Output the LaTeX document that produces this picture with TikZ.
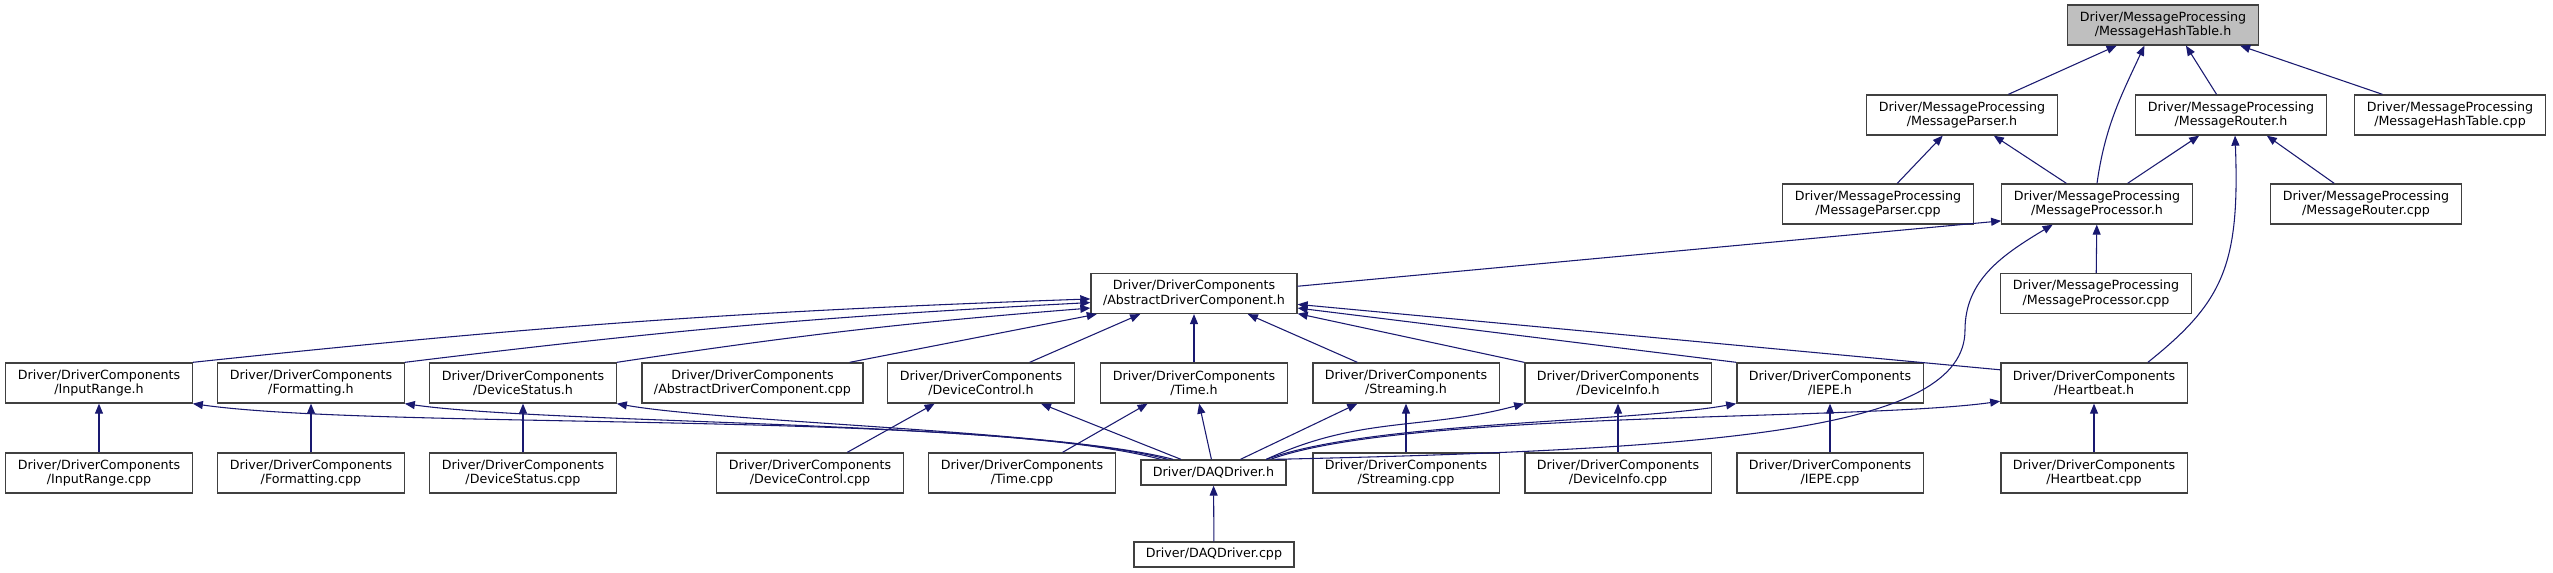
\documentclass[tikz,border=0pt]{standalone}
\usepackage{fontspec}
\setmainfont{DejaVu Sans}
\usetikzlibrary{arrows.meta}

\definecolor{midnightblue}{HTML}{191970}
\definecolor{nodeborder}{HTML}{404040}
\definecolor{rootfill}{HTML}{BFBFBF}

\begin{document}
\begin{tikzpicture}[
    file/.style={draw=nodeborder, fill=#1, line width=1pt, minimum height=30pt,
        inner xsep=9pt, inner ysep=0pt, align=center, font=\fontsize{9.5}{10.7}\selectfont},
    file/.default=white,
    oneline/.style={minimum height=18.75pt},
    dep/.style={draw=midnightblue, line width=0.8pt, -{Triangle[length=7.5pt, width=6pt]}},
    x=0.75pt, y=0.75pt
]

\def\W{2553}   % picture width (px)
\def\H{573}    % picture height (px)

\fill[white] (0,0) rectangle (\W,\H);
\useasboundingbox (0,0) rectangle (\W,\H);

% ── Message processing headers ───────────────────────────────────────────────
\node[file=rootfill] (hHashTable) at (2163,548) {Driver/MessageProcessing\\/MessageHashTable.h};
\node[file] (hParser)      at (1962,458) {Driver/MessageProcessing\\/MessageParser.h};
\node[file] (hRouter)      at (2231,458) {Driver/MessageProcessing\\/MessageRouter.h};
\node[file] (cppHashTable) at (2450,458) {Driver/MessageProcessing\\/MessageHashTable.cpp};
\node[file] (cppParser)    at (1878,369) {Driver/MessageProcessing\\/MessageParser.cpp};
\node[file] (hProcessor)   at (2097,369) {Driver/MessageProcessing\\/MessageProcessor.h};
\node[file] (cppRouter)    at (2366,369) {Driver/MessageProcessing\\/MessageRouter.cpp};
\node[file] (cppProcessor) at (2096,279.5) {Driver/MessageProcessing\\/MessageProcessor.cpp};

% ── Driver components ────────────────────────────────────────────────────────
\node[file] (hAbstract)   at (1194,279.5) {Driver/DriverComponents\\/AbstractDriverComponent.h};
\node[file] (cppAbstract) at (752.5,190) {Driver/DriverComponents\\/AbstractDriverComponent.cpp};

\foreach \n/\x in {InputRange/99, Formatting/311, DeviceStatus/523, Streaming/1406,
                   DeviceInfo/1618, IEPE/1830, Heartbeat/2094} {
    \node[file] (h\n)   at (\x,190) {Driver/DriverComponents\\/\n.h};
    \node[file] (cpp\n) at (\x,100) {Driver/DriverComponents\\/\n.cpp};
    \draw[dep] (cpp\n) -- (h\n);
}

\node[file] (hDeviceControl)   at (981,190)  {Driver/DriverComponents\\/DeviceControl.h};
\node[file] (cppDeviceControl) at (810,100)  {Driver/DriverComponents\\/DeviceControl.cpp};
\node[file] (hTime)            at (1194,190) {Driver/DriverComponents\\/Time.h};
\node[file] (cppTime)          at (1022,100) {Driver/DriverComponents\\/Time.cpp};

% ── Driver ───────────────────────────────────────────────────────────────────
\node[file, oneline] (daqH)   at (1213.5,100.5) {Driver/DAQDriver.h};
\node[file, oneline] (daqCpp) at (1214,18.5)    {Driver/DAQDriver.cpp};

\coordinate (bendDaq) at (1965,243);

% ── Includes of the message processing part ──────────────────────────────────
\draw[dep] (hParser.24) -- (hHashTable.204);
\draw[dep] (hProcessor.north) to[out=82, in=245] (hHashTable.228);
\draw[dep] (hRouter.125) -- (hHashTable.318);
\draw[dep] (cppHashTable.163) -- (hHashTable.345);
\draw[dep] (cppParser.47) -- (hParser.227);
\draw[dep] (hProcessor.146) -- (hParser.327);
\draw[dep] (hProcessor.34) -- (hRouter.213);
\draw[dep] (cppRouter.147) -- (hRouter.330);
\draw[dep] (hHeartbeat.21) .. controls +(75,60) and +(5,-130) .. (hRouter.281);
\draw[dep] (hAbstract.4) -- (hProcessor.190);
\draw[dep] (daqH.12) .. controls +(450,10) and +(0,-100) .. (bendDaq)
                     .. controls +(0,50) and +(-50,-30) .. (hProcessor.205);
\draw[dep] (cppProcessor) -- (hProcessor);

% ── Includes of AbstractDriverComponent.h ────────────────────────────────────
\draw[dep] (hInputRange.north east) to[bend left=2] (hAbstract.183);
\draw[dep] (hFormatting.north east) to[bend left=2] (hAbstract.185);
\draw[dep] (hDeviceStatus.north east) to[bend left=2] (hAbstract.188);
\draw[dep] (cppAbstract.12) -- (hAbstract.192);
\draw[dep] (hDeviceControl.23) -- (hAbstract.201);
\draw[dep] (hTime) -- (hAbstract);
\draw[dep] (hStreaming.157) -- (hAbstract.339);
\draw[dep] (hDeviceInfo.north west) -- (hAbstract.349);
\draw[dep] (hIEPE.north west) -- (hAbstract.352);
\draw[dep] (hHeartbeat.172) -- (hAbstract.354);

\draw[dep] (cppDeviceControl.29) -- (hDeviceControl.204);
\draw[dep] (cppTime.27) -- (hTime.204);

% ── Includes of DAQDriver.h ──────────────────────────────────────────────────
\draw[dep] (daqH.166) to[out=165, in=-8, looseness=0.5] (hInputRange.south east);
\draw[dep] (daqH.164) to[out=165, in=-8, looseness=0.5] (hFormatting.south east);
\draw[dep] (daqH.162) to[out=165, in=-10, looseness=0.5] (hDeviceStatus.south east);
\draw[dep] (daqH.158) -- (hDeviceControl.341);
\draw[dep] (daqH.99) -- (hTime.284);
\draw[dep] (daqH.26) -- (hStreaming.203);
\draw[dep] (daqH.14) to[out=25, in=195] (hDeviceInfo.south west);
\draw[dep] (daqH.14) to[out=20, in=190, looseness=0.6] (hIEPE.south west);
\draw[dep] (daqH.13) to[out=20, in=188, looseness=0.5] (hHeartbeat.191);
\draw[dep] (daqCpp) -- (daqH);

\end{tikzpicture}
\end{document}
